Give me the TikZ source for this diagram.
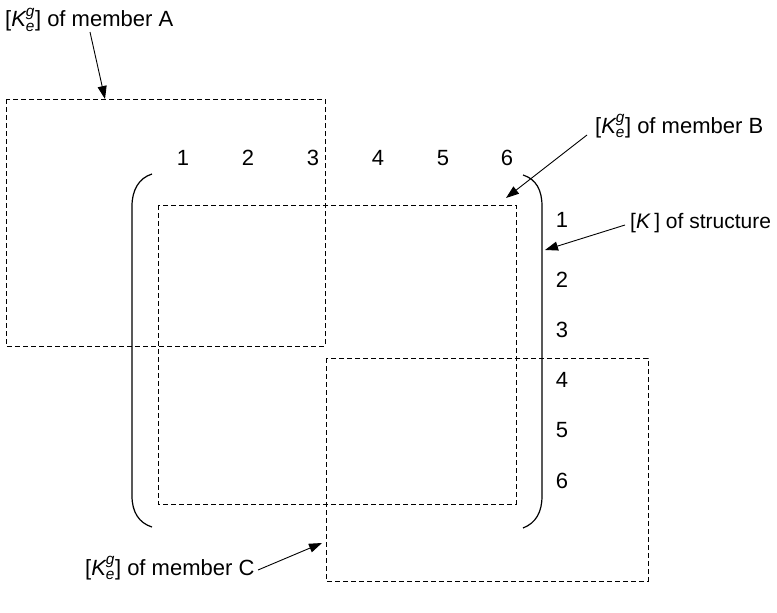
\documentclass[tikz,border=0pt]{standalone}
\usepackage{amsmath}
\usepackage{fontspec}
\setmainfont{Liberation Sans}
\usetikzlibrary{arrows.meta}
\begin{document}
\begin{tikzpicture}[x=1pt,y=-1pt,
  txt/.style={font=\fontsize{22}{26}\selectfont, inner sep=0pt},
  memberbox/.style={draw, line width=0.9pt, dash pattern=on 5pt off 3pt},
  brace/.style={draw, line width=1.2pt},
  pointer/.style={draw, line width=0.9pt, -{Triangle[length=13pt,width=9pt]}}]
\useasboundingbox (0,0) rectangle (777,613);

% element stiffness blocks of the three members
\draw[memberbox] (6,99) rectangle (325,346);
\draw[memberbox] (158,205) rectangle (516,504);
\draw[memberbox] (326,358) rectangle (648,581);

% brackets of the structure matrix
\draw[brace] (152,174) .. controls (139,178) and (132,190) .. (132,206)
  -- (132,496) .. controls (132,512) and (139,523) .. (152,527);
\draw[brace] (523,175) .. controls (536,179) and (542,190) .. (542,206)
  -- (542,496) .. controls (542,512) and (536,523) .. (523,528);

% column indices
\foreach \i/\x in {1/183,2/248,3/313,4/378,5/443,6/507}
  \node[txt] (c\i) at (\x,158) {\i};
% row indices
\foreach \i/\y in {1/220,2/280,3/330,4/380,5/430,6/481}
  \node[txt] (r\i) at (562,\y) {\i};

% labels
\node[txt, anchor=base west] (labA) at (5,27) {[$\textit{K}^{\textit{g}}_{\textit{e}}$] of member A};
\node[txt, anchor=base west] (labB) at (595,133) {[$\textit{K}^{\textit{g}}_{\textit{e}}$] of member B};
\node[txt, font=\fontsize{21}{25}\selectfont, anchor=base west] (labK) at (630,228) {[\textit{K}\,] of structure};
\node[txt, anchor=base west] (labC) at (85,575) {[$\textit{K}^{\textit{g}}_{\textit{e}}$] of member C};

% pointer ends
\coordinate (sA) at (90,32);
\coordinate (tA) at (105,99);
\coordinate (sB) at (587,135);
\coordinate (tB) at (506,198);
\coordinate (sK) at (625,225);
\coordinate (tK) at (545,250);
\coordinate (sC) at (258,570);
\coordinate (tC) at (322,543);

\draw[pointer] (sA) -- (tA);
\draw[pointer] (sB) -- (tB);
\draw[pointer] (sK) -- (tK);
\draw[pointer] (sC) -- (tC);
\end{tikzpicture}
\end{document}
